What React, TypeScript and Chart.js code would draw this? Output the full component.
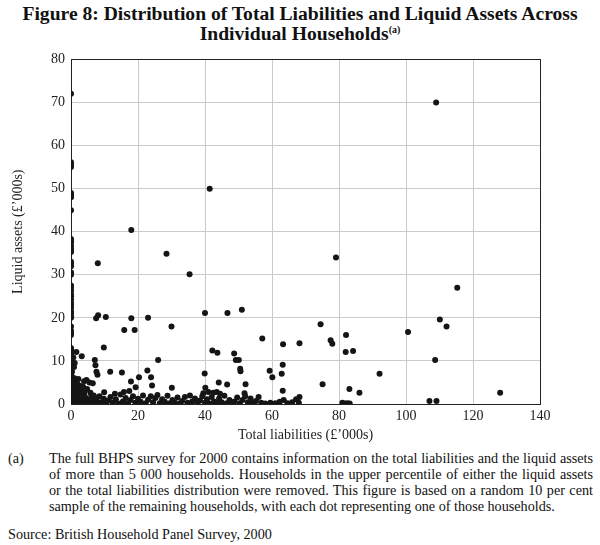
import React, { useEffect, useRef } from "react";
import { Chart, registerables } from "chart.js";

Chart.register(...registerables);

// Households with zero total liabilities (liquid assets, £'000s)
const zeroLiabilityAssets = [
  72, 56.1, 55.5, 55, 49, 48.5, 48, 45, 38.3, 37.8, 37.5, 36.7, 36, 35.3, 33, 32.5, 32, 30.5, 30,
  27.5, 27, 26.3, 25.5, 25, 24.3, 23.5, 23, 22.3, 21.5, 21, 20.3, 20, 18, 17, 16.5, 16, 13, 12.7,
  12.3, 12, 11.5, 11, 10.5, 10.2, 10, 9.5, 9, 8.5, 8, 7.5, 7, 6.5, 6, 5.5, 5, 4.5, 4, 3.7, 3.3, 3,
  2.7, 2.3, 2, 1.7, 1.3, 1, 0.8, 0.5, 0.3, 0.1, 0,
];

// Scattered households (liabilities, assets)
const scatterLiabilities = [
  109, 41.4, 18, 8, 28.5, 35.4, 79.1, 115.3, 51, 40, 46.7, 7.5, 8.1, 10.4, 18, 23, 15.9, 19, 30,
  110.1, 112.1, 74.5, 100.6, 82.1, 57.1, 77.5, 78, 63.3, 68.2, 82, 84.2, 9.8, 1.6, 3.2, 7.1, 7.3,
  7.6, 7.9, 26, 11.7, 15.2, 22.8, 23.9, 20.3, 42.2, 43.7, 48.7, 49.2, 50.1, 50.5, 50.6, 39.9, 108.7,
  63.2, 59.3, 62.9, 60.1, 92.1, 52.1, 75.1, 63.2, 83.1, 86.1, 128.1, 107, 109.1, 44.1, 46.6, 24.2,
  30.1, 40.1, 17.9, 19.3, 9.9, 13.1, 15.8, 17.4, 81, 81.8, 82.5, 83.2, 51.8, 39.5, 41, 42.5, 43.5,
  44.5,
];
const scatterAssets = [
  70, 50, 40.4, 32.7, 34.9, 30.1, 34, 27, 21.9, 21.1, 21.1, 19.9, 20.6, 20.2, 19.9, 20, 17.2, 17.2,
  18, 19.6, 18, 18.5, 16.7, 16, 15.2, 14.8, 14, 13.9, 14.1, 12.1, 12.3, 13.1, 12.1, 11.1, 10.2, 9,
  7.5, 6.8, 10.2, 7.5, 7.3, 7.8, 6.2, 6.2, 12.4, 11.9, 11.7, 10.2, 10.2, 8.2, 7.6, 7.1, 10.2, 9.1,
  7.7, 7.0, 6.2, 7.0, 4.6, 4.6, 3.1, 3.5, 2.6, 2.6, 0.7, 0.7, 5.0, 4.5, 4.3, 3.8, 3.8, 5.2, 3.9, 2.7,
  2.4, 2.8, 3.0, 0.3, 0.1, 0.2, 0.1, 2.5, 2.5, 2.8, 2.6, 2.8, 2.4,
];

// Dense cluster near the origin
const clusterLiabilities = [
  0.3, 0.4, 0.5, 0.6, 0.7, 0.5, 0.8, 0.4, 1, 1.2, 1.3, 1.1, 1.4, 1.2, 1.5, 2, 2.2, 2.4, 2, 2.5, 2.3,
  2.8, 3, 3.2, 3.4, 3, 3.6, 3.9, 4, 4.2, 4.1, 4.6, 4.8, 5, 5.2, 5.5, 5.8, 6, 6.2, 6.5, 6.8, 7, 7.3,
  7.6, 8, 8.5, 1.8, 3.7, 2.6, 1.6, 0.9, 1.1, 0.7, 2.2,
];
const clusterAssets = [
  7.5, 6.2, 5, 4, 3, 2, 1.2, 0.5, 6, 4.8, 3.6, 2.5, 1.5, 0.6, 0.2, 4.6, 3.8, 2.8, 1.8, 1, 0.3, 4.2,
  3.2, 2.2, 1.3, 0.5, 4, 5.3, 2.6, 1.6, 0.4, 5.6, 3.5, 1, 0.2, 5.0, 2.6, 1.6, 0.5, 4.8, 2, 0.8, 0.2,
  1.4, 0.4, 1.8, 0.1, 0.1, 2.1, 3.1, 8.6, 9.5, 10.8, 5.8,
];

// Band of households with small liquid assets
const bandLiabilities = [
  9, 9.8, 10.5, 11.2, 11.8, 12.5, 13.4, 14.2, 14.8, 15.5, 16.3, 17, 17.8, 18.5, 19.2, 20, 20.8, 21.5,
  22.3, 23, 23.8, 24.5, 25.2, 25.8, 26.5, 27.2, 28, 28.8, 29.5, 30.3, 31, 31.8, 32.5, 33.2, 34, 34.8,
  35.5, 36.2, 37, 37.8, 38.5, 39.2, 40, 40.6, 41.3, 42, 42.7, 43.4, 44.2, 45, 45.8, 46.5, 47.3, 48,
  48.8, 49.6, 50.4, 51.2, 52, 52.8, 53.6, 54.3, 55.2, 56, 56.8, 58, 59.5, 61, 62.3, 63.5, 64.6, 66,
  67.2, 68, 68.2,
];
const bandAssets = [
  0.4, 1.2, 0.2, 0.8, 1.6, 0.3, 1.1, 0.1, 2.2, 0.6, 1.4, 0.2, 0.9, 1.8, 0.3, 1.2, 0.5, 2, 0.2, 1, 1.8,
  0.4, 1.4, 2.1, 0.2, 1.1, 0.5, 1.9, 0.2, 0.9, 0.3, 1.5, 0.1, 0.7, 1.6, 0.3, 2, 0.6, 1.3, 0.2, 0.8,
  1.8, 0.3, 1.1, 0.1, 1.6, 0.6, 0.2, 1.3, 0.4, 1.9, 0.2, 0.9, 0.1, 0.6, 1.5, 0.2, 0.9, 1.8, 0.4, 1.3,
  0.2, 0.7, 1.6, 0.3, 0.1, 0.3, 0.2, 0.5, 0.9, 0.2, 0.4, 1.1, 0.3, 1.6,
];

const xTitle = "Total liabilities (£’000s)";
const yTitle = "Liquid assets (£’000s)";

const SERIF = "'Liberation Serif', 'Times New Roman', serif";

function buildPoints() {
  const pts: { x: number; y: number }[] = [];
  zeroLiabilityAssets.forEach((y) => pts.push({ x: 0, y }));
  scatterLiabilities.forEach((x, i) => pts.push({ x, y: scatterAssets[i] }));
  clusterLiabilities.forEach((x, i) => pts.push({ x, y: clusterAssets[i] }));
  bandLiabilities.forEach((x, i) => pts.push({ x, y: bandAssets[i] }));
  return pts;
}

const boxPlugin = {
  id: "boxBorder",
  beforeDatasetsDraw(chart: any) {
    const { ctx, chartArea } = chart;
    ctx.save();
    ctx.strokeStyle = "#222";
    ctx.lineWidth = 1;
    ctx.strokeRect(
      Math.round(chartArea.left) + 0.5,
      Math.round(chartArea.top) + 0.5,
      Math.round(chartArea.right - chartArea.left),
      Math.round(chartArea.bottom - chartArea.top)
    );
    ctx.restore();
  },
};

export default function App() {
  const ref = useRef<HTMLCanvasElement | null>(null);

  useEffect(() => {
    if (!ref.current) return;
    const chart = new Chart(ref.current, {
      type: "scatter",
      data: {
        datasets: [
          {
            data: buildPoints(),
            backgroundColor: "#151515",
            borderColor: "#151515",
            pointRadius: 3,
            pointBorderWidth: 0,
          },
        ],
      },
      options: {
        animation: false,
        responsive: false,
        maintainAspectRatio: false,
        layout: { padding: { top: 8, right: 60, bottom: 0, left: 0 } },
        plugins: { legend: { display: false }, tooltip: { enabled: false } },
        scales: {
          x: {
            type: "linear",
            min: 0,
            max: 140,
            afterFit: (s: any) => {
              s.height = 40;
            },
            ticks: { stepSize: 20, color: "#222", font: { family: SERIF, size: 14 }, padding: 4 },
            grid: { color: "#cacad2", drawTicks: false, lineWidth: 1 },
            border: { display: true, color: "#222" },
            title: {
              display: true,
              text: xTitle,
              color: "#222",
              font: { family: SERIF, size: 14 },
              padding: { top: 2, bottom: 0 },
            },
          },
          y: {
            type: "linear",
            min: 0,
            max: 80,
            afterFit: (s: any) => {
              s.width = 71;
            },
            ticks: { stepSize: 10, color: "#222", font: { family: SERIF, size: 14 }, padding: 6 },
            grid: { color: "#cacad2", drawTicks: false, lineWidth: 1 },
            border: { display: true, color: "#222" },
            title: {
              display: true,
              text: yTitle,
              color: "#222",
              font: { family: SERIF, size: 14 },
              padding: { top: 10, bottom: 0 },
            },
          },
        },
      },
      plugins: [boxPlugin],
    });
    return () => chart.destroy();
  }, []);

  const lineStyle: React.CSSProperties = {
    textAlign: "justify",
    textAlignLast: "justify",
    whiteSpace: "nowrap",
  };

  return (
    <div
      style={{
        position: "absolute",
        left: 0,
        top: 0,
        width: 600,
        height: 545,
        background: "#fff",
        fontFamily: SERIF,
        color: "#111",
      }}
    >
      <div
        style={{
          position: "absolute",
          top: 4,
          left: 0,
          width: 600,
          textAlign: "center",
          fontWeight: "bold",
          fontSize: 19.6,
          lineHeight: "20px",
        }}
      >
        Figure 8: Distribution of Total Liabilities and Liquid Assets Across
        <br />
        Individual Households
        <sup style={{ fontSize: 10, verticalAlign: "top", lineHeight: "12px" }}>(a)</sup>
      </div>
      <canvas
        ref={ref}
        width={600}
        height={399}
        style={{ position: "absolute", left: 0, top: 45, width: 600, height: 399 }}
      />
      <div style={{ position: "absolute", top: 450, left: 8, fontSize: 14.2, lineHeight: "16px" }}>
        (a)
      </div>
      <div
        style={{
          position: "absolute",
          top: 450,
          left: 49,
          width: 544,
          fontSize: 14.2,
          lineHeight: "16px",
        }}
      >
        <div style={lineStyle}>
          The full BHPS survey for 2000 contains information on the total liabilities and the liquid assets
        </div>
        <div style={lineStyle}>
          of more than 5 000 households. Households in the upper percentile of either the liquid assets
        </div>
        <div style={lineStyle}>
          or the total liabilities distribution were removed. This figure is based on a random 10 per cent
        </div>
        <div style={{ whiteSpace: "nowrap" }}>
          sample of the remaining households, with each dot representing one of those households.
        </div>
      </div>
      <div style={{ position: "absolute", top: 526, left: 8, fontSize: 14.2, lineHeight: "16px" }}>
        Source: British Household Panel Survey, 2000
      </div>
    </div>
  );
}
